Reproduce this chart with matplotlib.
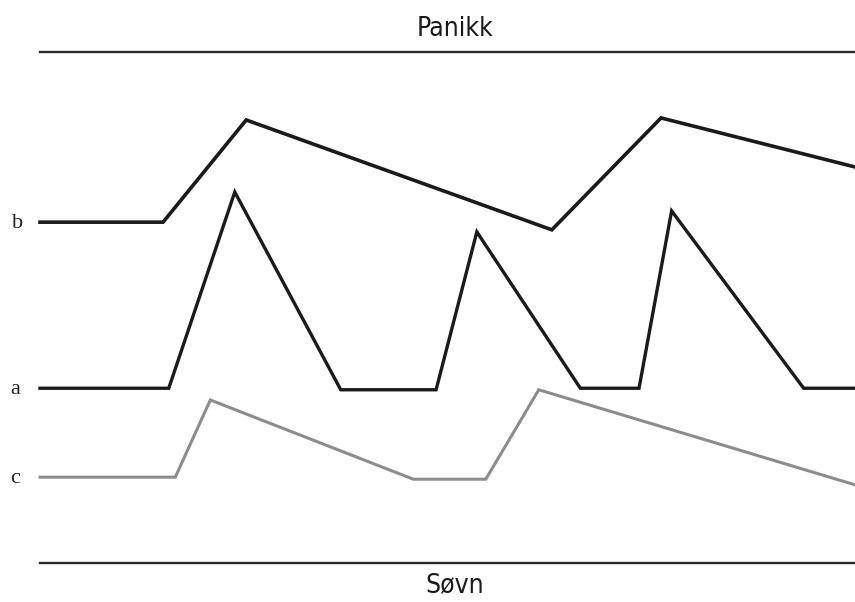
import matplotlib
matplotlib.use("Agg")
import matplotlib.pyplot as plt

# Time axis (arbitrary units 0-100) and arousal level (0 = Søvn, 100 = Panikk)
b_t = [0, 15.1, 25.3, 62.8, 76.2, 100]
b_y = [66.7, 66.7, 86.7, 65.2, 87.1, 77.5]

a_t = [0, 15.8, 23.9, 36.9, 48.6, 53.6, 66.3, 73.5, 77.5, 93.7, 100]
a_y = [34.2, 34.2, 72.6, 33.9, 33.9, 64.8, 34.2, 34.2, 68.9, 34.2, 34.2]

c_t = [0, 16.6, 20.9, 45.8, 54.7, 61.2, 100]
c_y = [16.8, 16.8, 31.9, 16.4, 16.4, 33.9, 15.3]

series_labels = ["b", "a", "c"]
top_label = "Panikk"
bottom_label = "Søvn"

W, H = 855, 602
fig = plt.figure(figsize=(W / 100, H / 100), dpi=100)
ax = fig.add_axes([40 / W, (H - 563) / H, 815 / W, 511 / H])
ax.set_xlim(0, 100)
ax.set_ylim(0, 100)
ax.axis("off")

ax.axhline(100, color="#2a2a2a", lw=1.7, clip_on=False)
ax.axhline(0, color="#2a2a2a", lw=1.7, clip_on=False)

ax.plot(b_t, b_y, color="#1a1a1a", lw=2.6, solid_joinstyle="miter", clip_on=False)
ax.plot(a_t, a_y, color="#1a1a1a", lw=2.4, solid_joinstyle="miter", clip_on=False)
ax.plot(c_t, c_y, color="#8c8c8c", lw=2.2, solid_joinstyle="miter", clip_on=False)

for lab, ys, dx in zip(series_labels, [b_y, a_y, c_y], [-2.7, -3.0, -3.1]):
    ax.text(dx, ys[0] - 0.2, lab, ha="center", va="center", fontsize=16,
            family="Liberation Serif", color="#222222", clip_on=False)

ax.text(50.9, 104.5, top_label, ha="center", va="center", fontsize=19,
        family="DejaVu Sans", fontstretch="condensed", color="#1a1a1a", clip_on=False)
ax.text(50.9, -4.3, bottom_label, ha="center", va="center", fontsize=19,
        family="DejaVu Sans", fontstretch="condensed", color="#1a1a1a", clip_on=False)

fig.savefig("out.png", dpi=100, facecolor="white")
